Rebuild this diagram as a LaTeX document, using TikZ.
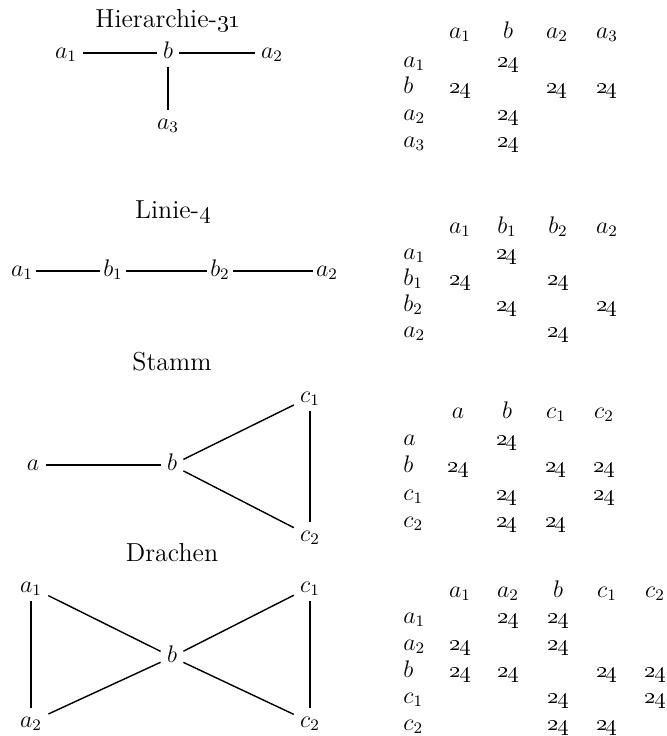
\documentclass[tikz,border=0pt]{standalone}

\tikzset{
  ttl/.style={font=\fontsize{13}{15}\selectfont},
  vtx/.style={inner sep=3pt, text height=1.5ex, text depth=.25ex, font=\fontsize{12}{14}\selectfont},
  hd/.style={vtx, inner sep=0pt},
  rw/.style={hd, anchor=west},
  num/.style={hd, font=\fontsize{11}{13}\selectfont},
  link/.style={line width=0.7pt}
}
\newcommand{\zahl}{\oldstylenums{24}}

\begin{document}
\begin{tikzpicture}[x=0.5pt,y=-0.5pt]
    \useasboundingbox (0,0) rectangle (667,736);

    % Hierarchie-31
    \node[ttl] (t1) at (168,21) {Hierarchie-\oldstylenums{31}};
    \node[vtx] (h-a1) at (66,53) {$a_1$};
    \node[vtx] (h-b) at (168,53) {$b$};
    \node[vtx] (h-a2) at (272,53) {$a_2$};
    \node[vtx] (h-a3) at (168,124) {$a_3$};
    \draw[link] (h-a1) -- (h-b);
    \draw[link] (h-b) -- (h-a2);
    \draw[link] (h-b) -- (h-a3);

    \node[hd] (m1c1) at (460,33) {$a_1$};
    \node[hd] (m1c2) at (508,33) {$b$};
    \node[hd] (m1c3) at (557,33) {$a_2$};
    \node[hd] (m1c4) at (607,33) {$a_3$};
    \node[rw] (m1r1) at (403,62) {$a_1$};
    \node[rw] (m1r2) at (403,88) {$b$};
    \node[rw] (m1r3) at (403,115) {$a_2$};
    \node[rw] (m1r4) at (403,142) {$a_3$};
    \node[num] (m1v12) at (508,62) {\zahl};
    \node[num] (m1v21) at (460,88) {\zahl};
    \node[num] (m1v23) at (557,88) {\zahl};
    \node[num] (m1v24) at (607,88) {\zahl};
    \node[num] (m1v32) at (508,115) {\zahl};
    \node[num] (m1v42) at (508,142) {\zahl};

    % Linie-4
    \node[ttl] (t2) at (173,212) {Linie-\oldstylenums{4}};
    \node[vtx, inner sep=1.5pt] (l-a1) at (22,271) {$a_1$};
    \node[vtx, inner sep=1.5pt] (l-b1) at (113,271) {$b_1$};
    \node[vtx, inner sep=1.5pt] (l-b2) at (220,271) {$b_2$};
    \node[vtx, inner sep=1.5pt] (l-a2) at (327,271) {$a_2$};
    \draw[link] (l-a1) -- (l-b1);
    \draw[link] (l-b1) -- (l-b2);
    \draw[link] (l-b2) -- (l-a2);

    \node[hd] (m2c1) at (460,228) {$a_1$};
    \node[hd] (m2c2) at (507,228) {$b_1$};
    \node[hd] (m2c3) at (558,228) {$b_2$};
    \node[hd] (m2c4) at (607,228) {$a_2$};
    \node[rw] (m2r1) at (403,254) {$a_1$};
    \node[rw] (m2r2) at (403,280) {$b_1$};
    \node[rw] (m2r3) at (403,306) {$b_2$};
    \node[rw] (m2r4) at (403,332) {$a_2$};
    \node[num] (m2v12) at (507,254) {\zahl};
    \node[num] (m2v21) at (460,280) {\zahl};
    \node[num] (m2v23) at (558,280) {\zahl};
    \node[num] (m2v32) at (507,306) {\zahl};
    \node[num] (m2v34) at (607,306) {\zahl};
    \node[num] (m2v43) at (558,332) {\zahl};

    % Stamm
    \node[ttl] (t3) at (172,362) {Stamm};
    \node[vtx] (s-a) at (33,465) {$a$};
    \node[vtx] (s-b) at (172,465) {$b$};
    \node[vtx] (s-c1) at (310,397) {$c_1$};
    \node[vtx] (s-c2) at (310,536) {$c_2$};
    \draw[link] (s-a) -- (s-b);
    \draw[link] (s-b) -- (s-c1);
    \draw[link] (s-b) -- (s-c2);
    \draw[link] (s-c1) -- (s-c2);

    \node[hd] (m3c1) at (458,413) {$a$};
    \node[hd] (m3c2) at (507,413) {$b$};
    \node[hd] (m3c3) at (556,413) {$c_1$};
    \node[hd] (m3c4) at (604,413) {$c_2$};
    \node[rw] (m3r1) at (403,440) {$a$};
    \node[rw] (m3r2) at (403,467) {$b$};
    \node[rw] (m3r3) at (403,495) {$c_1$};
    \node[rw] (m3r4) at (403,522) {$c_2$};
    \node[num] (m3v12) at (507,440) {\zahl};
    \node[num] (m3v21) at (458,467) {\zahl};
    \node[num] (m3v23) at (556,467) {\zahl};
    \node[num] (m3v24) at (604,467) {\zahl};
    \node[num] (m3v32) at (507,495) {\zahl};
    \node[num] (m3v34) at (604,495) {\zahl};
    \node[num] (m3v42) at (507,522) {\zahl};
    \node[num] (m3v43) at (556,522) {\zahl};

    % Drachen
    \node[ttl] (t4) at (172,553) {Drachen};
    \node[vtx] (d-a1) at (31,587) {$a_1$};
    \node[vtx] (d-a2) at (31,722) {$a_2$};
    \node[vtx] (d-b) at (172,657) {$b$};
    \node[vtx] (d-c1) at (310,587) {$c_1$};
    \node[vtx] (d-c2) at (310,722) {$c_2$};
    \draw[link] (d-a1) -- (d-a2);
    \draw[link] (d-a1) -- (d-b);
    \draw[link] (d-a2) -- (d-b);
    \draw[link] (d-b) -- (d-c1);
    \draw[link] (d-b) -- (d-c2);
    \draw[link] (d-c1) -- (d-c2);

    \node[hd] (m4c1) at (460,592) {$a_1$};
    \node[hd] (m4c2) at (508,592) {$a_2$};
    \node[hd] (m4c3) at (558,592) {$b$};
    \node[hd] (m4c4) at (607,592) {$c_1$};
    \node[hd] (m4c5) at (655,592) {$c_2$};
    \node[rw] (m4r1) at (403,618) {$a_1$};
    \node[rw] (m4r2) at (403,645) {$a_2$};
    \node[rw] (m4r3) at (403,672) {$b$};
    \node[rw] (m4r4) at (403,698) {$c_1$};
    \node[rw] (m4r5) at (403,725) {$c_2$};
    \node[num] (m4v12) at (508,618) {\zahl};
    \node[num] (m4v13) at (558,618) {\zahl};
    \node[num] (m4v21) at (460,645) {\zahl};
    \node[num] (m4v23) at (558,645) {\zahl};
    \node[num] (m4v31) at (460,672) {\zahl};
    \node[num] (m4v32) at (508,672) {\zahl};
    \node[num] (m4v34) at (607,672) {\zahl};
    \node[num] (m4v35) at (655,672) {\zahl};
    \node[num] (m4v43) at (558,698) {\zahl};
    \node[num] (m4v45) at (655,698) {\zahl};
    \node[num] (m4v53) at (558,725) {\zahl};
    \node[num] (m4v54) at (607,725) {\zahl};
\end{tikzpicture}
\end{document}
